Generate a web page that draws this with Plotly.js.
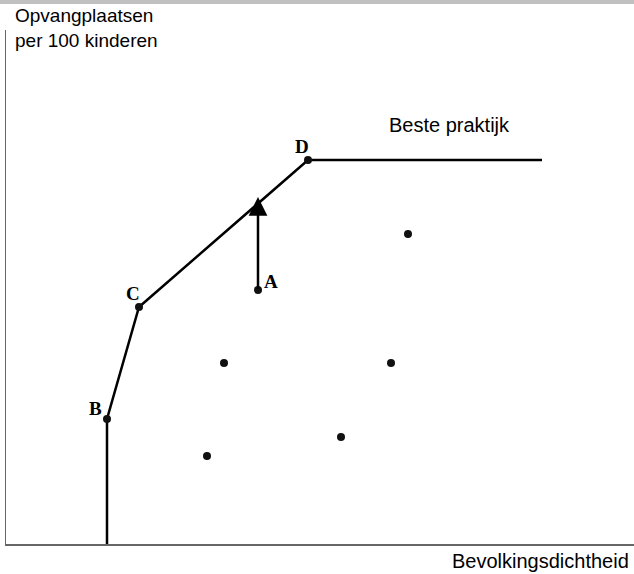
<!DOCTYPE html>
<html>
<head>
<meta charset="utf-8">
<script src="https://cdn.plot.ly/plotly-3.0.1.min.js"></script>
<style>
  html, body { margin: 0; padding: 0; background: #fff; }
  #chart { width: 634px; height: 574px; }
</style>
</head>
<body>
<div id="chart"></div>
<script>
// frontier of best practice (arbitrary units)
var frontierX = [101, 101, 133, 302, 536];
var frontierY = [0, 125, 237, 384, 384];

// labelled points
var labelNames = ['B', 'C', 'D', 'A'];
var labelX = [101, 133, 302, 252];
var labelY = [125, 237, 384, 254];

// other observations
var otherX = [402, 218, 385, 335, 201];
var otherY = [310, 181, 181, 107, 88];

// arrow from A up to the frontier
var arrowFrom = [252, 254];
var arrowTo = [252, 347];

var xTitle = 'Bevolkingsdichtheid';
var yTitle = 'Opvangplaatsen<br>per 100 kinderen';
var frontierLabel = 'Beste praktijk';

var data = [
  {
    x: frontierX, y: frontierY,
    mode: 'lines', type: 'scatter',
    line: {color: '#000', width: 2.5},
    hoverinfo: 'skip'
  },
  {
    x: labelX, y: labelY,
    mode: 'markers', type: 'scatter',
    marker: {color: '#111', size: 8},
    hoverinfo: 'skip'
  },
  {
    x: otherX, y: otherY,
    mode: 'markers', type: 'scatter',
    marker: {color: '#111', size: 8},
    hoverinfo: 'skip'
  }
];

var letterShift = {B: [-12, 11], C: [-6, 14], D: [-6, 14], A: [13, 9]};

var annotations = labelNames.map(function (name, i) {
  return {
    x: labelX[i], y: labelY[i], xref: 'x', yref: 'y',
    text: name, showarrow: false,
    xshift: letterShift[name][0], yshift: letterShift[name][1],
    font: {family: 'Liberation Serif, Times New Roman, serif', size: 19, color: '#000', weight: 'bold'}
  };
});

annotations.push({
  x: arrowTo[0], y: arrowTo[1], ax: arrowFrom[0], ay: arrowFrom[1],
  xref: 'x', yref: 'y', axref: 'x', ayref: 'y',
  text: '', showarrow: true,
  arrowhead: 2, arrowsize: 1.5, arrowwidth: 2.5, arrowcolor: '#000'
});

annotations.push({
  x: 443, y: 419, xref: 'x', yref: 'y',
  text: frontierLabel, showarrow: false,
  font: {family: 'Liberation Sans, Arial, sans-serif', size: 20, color: '#000'}
});

annotations.push({
  x: 0.011, y: 1.052, xref: 'paper', yref: 'paper',
  xanchor: 'left', yanchor: 'top', align: 'left',
  text: yTitle, showarrow: false,
  font: {family: 'Liberation Sans, Arial, sans-serif', size: 19, color: '#000'}
});

annotations.push({
  x: 0.996, y: -0.033, xref: 'paper', yref: 'paper',
  xanchor: 'right', yanchor: 'middle',
  text: xTitle, showarrow: false,
  font: {family: 'Liberation Sans, Arial, sans-serif', size: 20, color: '#000'}
});

var layout = {
  width: 634, height: 574,
  margin: {l: 6, r: 0, t: 30, b: 30},
  paper_bgcolor: '#fff', plot_bgcolor: '#fff',
  showlegend: false,
  xaxis: {
    range: [0, 628], showgrid: false, zeroline: false,
    showticklabels: false, ticks: '',
    showline: true, linecolor: '#666', linewidth: 1.5
  },
  yaxis: {
    range: [0, 514], showgrid: false, zeroline: false,
    showticklabels: false, ticks: '',
    showline: true, linecolor: '#666', linewidth: 1.5
  },
  shapes: [{
    type: 'rect', xref: 'paper', yref: 'paper',
    x0: -0.02, x1: 1.02, y0: 1.0506, y1: 1.07,
    fillcolor: '#c0c0c0', line: {width: 0}
  }],
  annotations: annotations
};

Plotly.newPlot('chart', data, layout, {staticPlot: true});
</script>
</body>
</html>
